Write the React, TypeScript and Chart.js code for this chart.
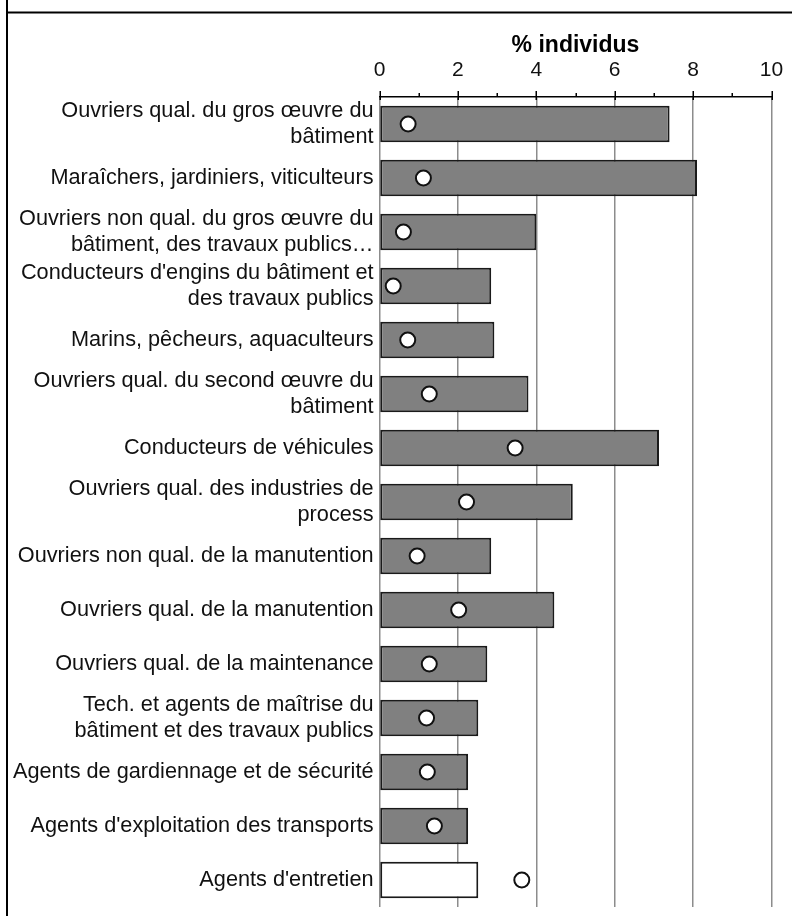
import React, { useEffect, useRef } from 'react';
import { Chart, registerables } from 'chart.js';

Chart.register(...registerables);

const categories: (string | string[])[] = [
  ['Ouvriers qual. du gros œuvre du', 'bâtiment'],
  'Maraîchers, jardiniers, viticulteurs',
  ['Ouvriers non qual. du gros œuvre du', 'bâtiment, des travaux publics…'],
  ["Conducteurs d'engins du bâtiment et", 'des travaux publics'],
  'Marins, pêcheurs, aquaculteurs',
  ['Ouvriers qual. du second œuvre du', 'bâtiment'],
  'Conducteurs de véhicules',
  ['Ouvriers qual. des industries de', 'process'],
  'Ouvriers non qual. de la manutention',
  'Ouvriers qual. de la manutention',
  'Ouvriers qual. de la maintenance',
  ['Tech. et agents de maîtrise du', 'bâtiment et des travaux publics'],
  'Agents de gardiennage et de sécurité',
  "Agents d'exploitation des transports",
  "Agents d'entretien",
];

const barValues: number[] = [7.4, 8.1, 4.0, 2.85, 2.93, 3.8, 7.13, 4.93, 2.85, 4.46, 2.75, 2.52, 2.26, 2.26, 2.52];
const dotValues: number[] = [0.73, 1.12, 0.61, 0.35, 0.72, 1.27, 3.46, 2.22, 0.96, 2.02, 1.27, 1.2, 1.22, 1.4, 3.63];
const whiteBarIndex = 14;

const xMin = 0;
const xMax = 10;
const axisTitle = '% individus';

const FONT = '"Liberation Sans", Arial, sans-serif';

const framePlugin = {
  id: 'frame',
  beforeDraw(chart: any) {
    const ctx = chart.ctx;
    ctx.save();
    ctx.fillStyle = '#ffffff';
    ctx.fillRect(0, 0, chart.width, chart.height);
    ctx.restore();
  },
  afterDraw(chart: any) {
    const ctx = chart.ctx;
    ctx.save();
    ctx.strokeStyle = '#000';
    ctx.lineWidth = 2;
    ctx.beginPath();
    ctx.moveTo(7, 0);
    ctx.lineTo(7, 916);
    ctx.moveTo(6, 12.5);
    ctx.lineTo(chart.width, 12.5);
    ctx.stroke();
    const xs = chart.scales.x;
    const top = chart.chartArea.top;
    ctx.lineWidth = 1.5;
    ctx.beginPath();
    for (let v = xMin; v <= xMax; v++) {
      const px = Math.round(xs.getPixelForValue(v)) + 0.25;
      if (v % 2 === 0) {
        ctx.moveTo(px, top - 6);
        ctx.lineTo(px, top + 3);
      } else {
        ctx.moveTo(px, top - 4);
        ctx.lineTo(px, top);
      }
    }
    ctx.stroke();
    ctx.restore();
  },
};

export default function App() {
  const ref = useRef<HTMLCanvasElement | null>(null);
  useEffect(() => {
    if (!ref.current) return;
    const chart = new Chart(ref.current, {
      type: 'bar',
      data: {
        labels: categories as any,
        datasets: [
          {
            type: 'line',
            data: dotValues,
            showLine: false,
            pointRadius: 7.5,
            pointBackgroundColor: '#ffffff',
            pointBorderColor: '#111111',
            pointBorderWidth: 2,
            order: 1,
            indexAxis: 'y',
          } as any,
          {
            type: 'bar',
            data: barValues,
            backgroundColor: barValues.map((_, i) => (i === whiteBarIndex ? '#ffffff' : '#808080')),
            borderColor: '#1a1a1a',
            borderWidth: 2,
            borderSkipped: false,
            barPercentage: 0.68,
            categoryPercentage: 1,
            order: 2,
          } as any,
        ],
      },
      options: {
        indexAxis: 'y',
        responsive: false,
        animation: false,
        layout: { padding: { left: 0, right: 20.5, top: 0, bottom: 11 } },
        plugins: { legend: { display: false }, tooltip: { enabled: false } },
        scales: {
          x: {
            type: 'linear',
            position: 'top',
            min: xMin,
            max: xMax,
            ticks: {
              stepSize: 1,
              color: '#111',
              font: { family: FONT, size: 21 },
              padding: 8,
              callback: (v: any) => (Number(v) % 2 === 0 ? String(v) : ''),
            },
            grid: {
              drawTicks: true,
              tickLength: 6,
              tickColor: 'transparent',
              color: (c: any) => (c.tick && c.tick.value % 2 === 0 ? '#8c8c8c' : 'transparent'),
              lineWidth: 1.5,
            },
            border: { display: true, color: '#000', width: 1.5 },
            title: {
              display: true,
              text: axisTitle,
              color: '#000',
              font: { family: FONT, size: 23, weight: 'bold' },
              padding: { top: 32, bottom: 0 },
            },
            afterFit: (s: any) => {
              s.height = 97;
            },
          },
          y: {
            type: 'category',
            offset: true,
            grid: { display: false, drawTicks: false },
            border: { display: false },
            ticks: {
              color: '#111',
              font: { family: FONT, size: 21.7, lineHeight: 1.2 },
              padding: 6,
              autoSkip: false,
            },
            afterFit: (s: any) => {
              s.width = 379.5;
              s.paddingTop = 0;
              s.paddingBottom = 0;
            },
          },
        },
      },
      plugins: [framePlugin],
    });
    return () => chart.destroy();
  }, []);
  return (
    <div style={{ position: 'absolute', left: 0, top: 0, width: 792, height: 918 }}>
      <canvas ref={ref} width={792} height={918} style={{ display: 'block' }} />
    </div>
  );
}
